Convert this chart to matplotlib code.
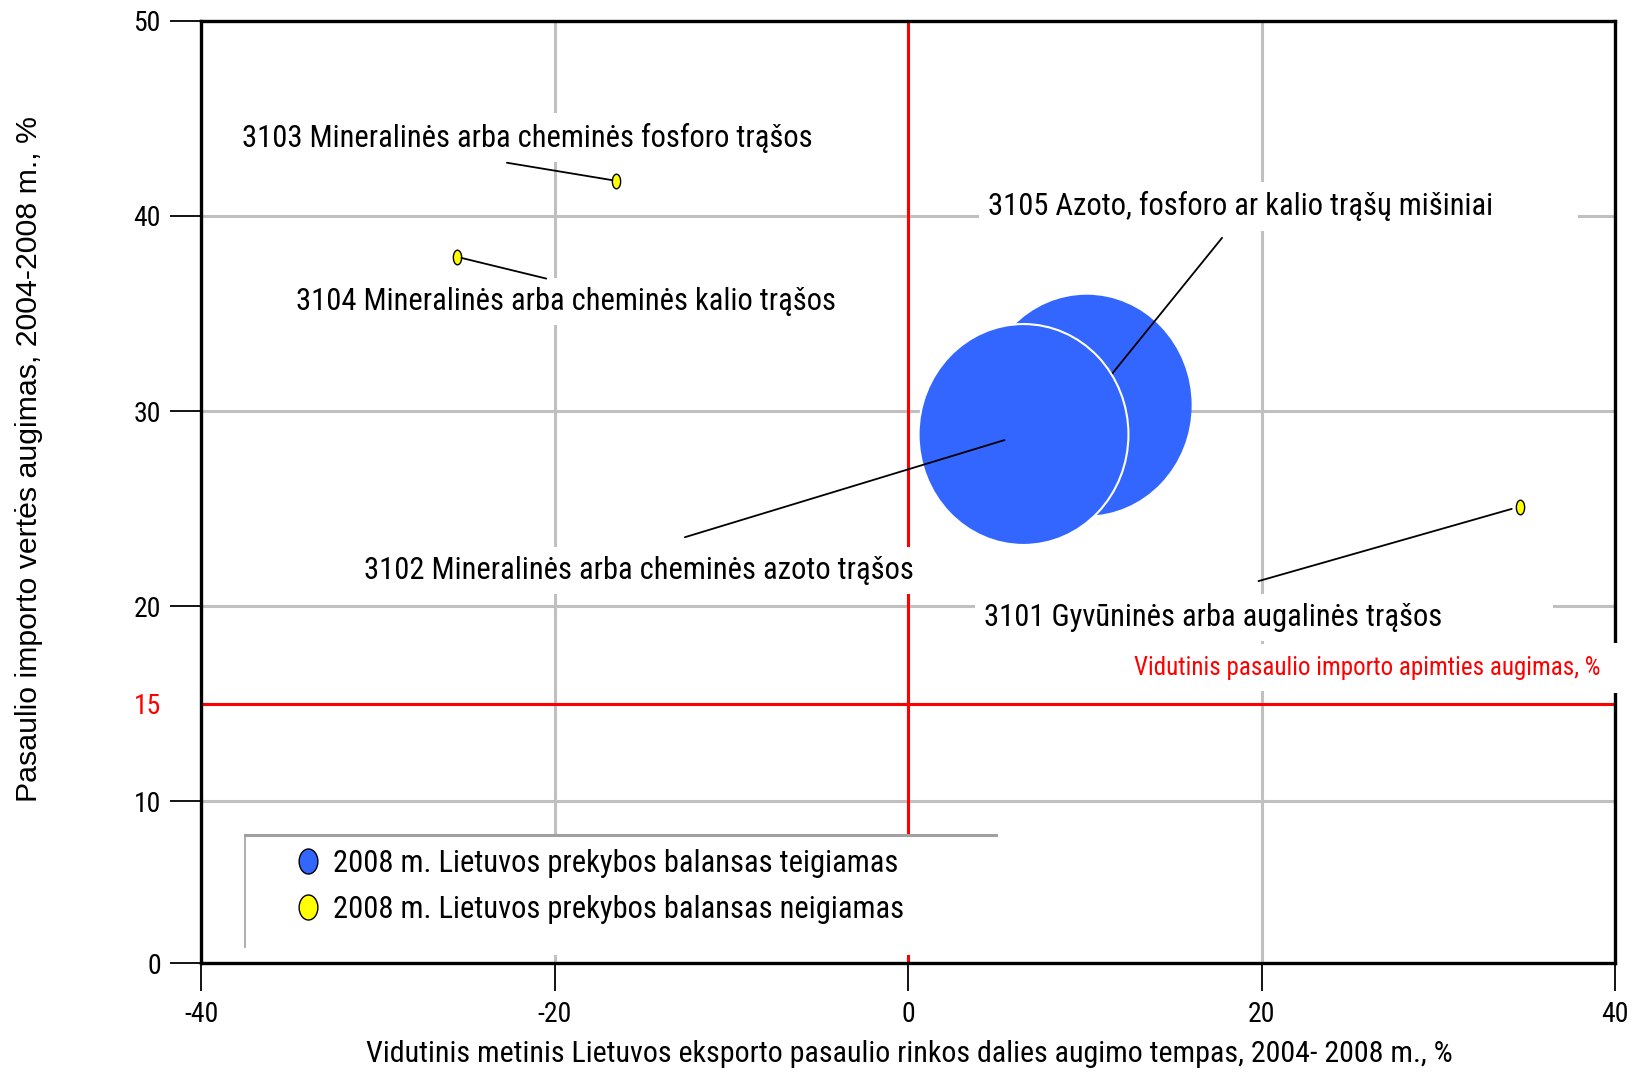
import matplotlib
matplotlib.use("Agg")
import matplotlib.pyplot as plt
from matplotlib import font_manager
from matplotlib.markers import MarkerStyle
from matplotlib.transforms import Affine2D
from matplotlib.lines import Line2D
from matplotlib.patches import Rectangle

# data
codes = ["3101", "3102", "3103", "3104", "3105"]
names = ["Gyvūninės arba augalinės trąšos",
         "Mineralinės arba cheminės azoto trąšos",
         "Mineralinės arba cheminės fosforo trąšos",
         "Mineralinės arba cheminės kalio trąšos",
         "Azoto, fosforo ar kalio trąšų mišiniai"]
export_share_growth = [34.6, 6.5, -16.5, -25.5, 10.1]
import_value_growth = [25.1, 28.8, 41.8, 37.9, 30.3]
bubble_size = [110, 25300, 110, 110, 25300]
balance_positive = [False, True, False, False, True]
avg_import_growth = 15

xticks = [-40, -20, 0, 20, 40]
y_bottom = 1.7
yticks = [y_bottom, 10, 15, 20, 30, 40, 50]
ytick_labels = ["0", "10", "15", "20", "30", "40", "50"]

legend_labels = ["2008 m. Lietuvos prekybos balansas teigiamas",
                 "2008 m. Lietuvos prekybos balansas neigiamas"]
xlabel = "Vidutinis metinis Lietuvos eksporto pasaulio rinkos dalies augimo tempas, 2004- 2008 m., %"
ylabel = "Pasaulio importo vertės augimas, 2004-2008 m., %"
avg_label = "Vidutinis pasaulio importo apimties augimas, %"

BLUE = "#3366ff"
YELLOW = "#ffff00"
RED = "#ff0000"
GRID = "#c0c0c0"


# pick a narrow font (Arial Narrow look-alike) if one is installed
def find_narrow():
    entries = font_manager.fontManager.ttflist
    for want in ["Liberation Sans Narrow", "Arial Narrow", "Roboto Condensed"]:
        for f in entries:
            if f.name == want and f.style == "normal" and f.weight in (400, "normal", "regular"):
                return f.fname
    for fam in ["Liberation Sans", "Noto Sans", "DejaVu Sans", "Roboto", "Open Sans"]:
        for f in entries:
            if f.name == fam and "condensed" in str(f.stretch) and f.style == "normal" \
                    and f.weight in (400, "normal", "regular"):
                return f.fname
    return None


narrow_file = find_narrow()


def nf(size):
    if narrow_file:
        return font_manager.FontProperties(fname=narrow_file, size=size)
    return font_manager.FontProperties(family="Liberation Sans", size=size * 0.85)


fig = plt.figure(figsize=(16.36, 10.73), dpi=100)
ax = fig.add_axes([0.1229, 0.1025, 0.8644, 0.878])
ax.set_xlim(-40, 40)
ax.set_ylim(y_bottom, 50)

ax.set_xticks(xticks)
ax.set_xticklabels([str(t) for t in xticks])
ax.set_yticks(yticks)
ax.set_yticklabels(ytick_labels)
for lab in ax.get_xticklabels() + ax.get_yticklabels():
    lab.set_fontproperties(nf(20))
ax.tick_params(axis="y", length=22, width=1.3, pad=7)
ax.tick_params(axis="x", length=20, width=1.3, pad=7)
i15 = yticks.index(avg_import_growth)
ax.get_yticklabels()[i15].set_color(RED)
ax.yaxis.get_major_ticks()[i15].tick1line.set_visible(False)

ax.grid(True, color=GRID, lw=2.2)
ax.set_axisbelow(True)
for s in ax.spines.values():
    s.set_linewidth(2.4)
    s.set_zorder(2.5)

ax.axhline(avg_import_growth, color=RED, lw=2.2, zorder=1.5)
ax.axvline(0, color=RED, lw=2.2, zorder=1.5)

# bubbles; small ones are drawn as narrow ellipses
order = [4, 1, 0, 2, 3]
for i in order:
    aspect = 0.95 if bubble_size[i] > 1000 else 0.57
    mk = MarkerStyle("o", transform=Affine2D().scale(aspect, 1.0))
    if balance_positive[i]:
        ax.scatter(export_share_growth[i], import_value_growth[i], s=bubble_size[i], marker=mk,
                   color=BLUE, edgecolors="white" if codes[i] == "3102" else "none",
                   linewidths=1.5, zorder=3 + order.index(i) * 0.1)
    else:
        ax.scatter(export_share_growth[i], import_value_growth[i], s=bubble_size[i], marker=mk,
                   color=YELLOW, edgecolors="black", linewidths=1.0, zorder=4)

# label layout (data coordinates)
label_pos = {"3101": (17.26, 19.42), "3102": (-15.22, 21.82), "3103": (-21.53, 44.02),
             "3104": (-19.38, 35.62), "3105": (18.82, 40.49)}
line_start = {"3101": (19.82, 21.28), "3102": (-12.63, 23.53), "3103": (-22.7, 42.73),
              "3104": (-20.47, 36.79), "3105": (17.76, 38.88)}
shrink = {"3101": 6, "3102": 14, "3103": 3, "3104": 3, "3105": 0}

for i, code in enumerate(codes):
    lx, ly = label_pos[code]
    ax.text(lx, ly, f"{code} {names[i]}", fontproperties=nf(22), ha="center", va="center",
            color="black", zorder=2,
            bbox=dict(boxstyle="square,pad=0.3", facecolor="white", edgecolor="none"))
    ax.annotate("", xy=(export_share_growth[i], import_value_growth[i]), xytext=line_start[code],
                arrowprops=dict(arrowstyle="-", color="black", lw=1.3,
                                shrinkA=0, shrinkB=shrink[code]),
                zorder=3.05 if code == "3105" else 5)

# extra white space to the right of two label boxes
ax.add_patch(Rectangle((33.0, 38.2), 4.9, 3.5, facecolor="white", edgecolor="none", zorder=1.8))
ax.add_patch(Rectangle((30.5, 18.4), 6.0, 2.4, facecolor="white", edgecolor="none", zorder=1.8))

ax.text(39.17, 16.84, avg_label, fontproperties=nf(18), color=RED, ha="right", va="center",
        zorder=6, clip_on=False,
        bbox=dict(boxstyle="square,pad=0.45", facecolor="white", edgecolor="none"))
# the label's white box also cuts the right frame line
ax.add_patch(Rectangle((0.985, 0.287), 0.022, 0.053, transform=ax.transAxes, clip_on=False,
                       facecolor="white", edgecolor="none", zorder=5.9))

# legend: white box with grey top/left edge
ax.add_patch(Rectangle((0.031, 0.009), 0.531, 0.127, transform=ax.transAxes,
                       facecolor="white", edgecolor="none", zorder=2.6))
ax.add_line(Line2D([0.031, 0.5624], [0.1362, 0.1362], transform=ax.transAxes,
                   color="#a0a0a0", lw=2.2, zorder=2.7))
ax.add_line(Line2D([0.031, 0.031], [0.1362, 0.0166], transform=ax.transAxes,
                   color="#a0a0a0", lw=1.2, zorder=2.7))
leg_mk = MarkerStyle("o", transform=Affine2D().scale(0.75, 1.0))
handles = [Line2D([], [], ls="none", marker=leg_mk, markersize=18, markerfacecolor=BLUE,
                  markeredgecolor="black", markeredgewidth=1.0),
           Line2D([], [], ls="none", marker=leg_mk, markersize=18, markerfacecolor=YELLOW,
                  markeredgecolor="black", markeredgewidth=1.0)]
leg = ax.legend(handles, legend_labels, loc="upper left", bbox_to_anchor=(0.065, 0.121),
                frameon=False, prop=nf(22), borderpad=0, borderaxespad=0,
                handletextpad=0.3, labelspacing=0.55, handlelength=1.0)
leg.set_zorder(3)

fig.text(0.556, 0.0177, xlabel, fontproperties=nf(21.6), ha="center", va="center")
fig.text(0.0178, 0.572, ylabel, family="Liberation Sans", fontsize=21.8, rotation=90,
         ha="center", va="center")

fig.savefig("out.png", dpi=100)
